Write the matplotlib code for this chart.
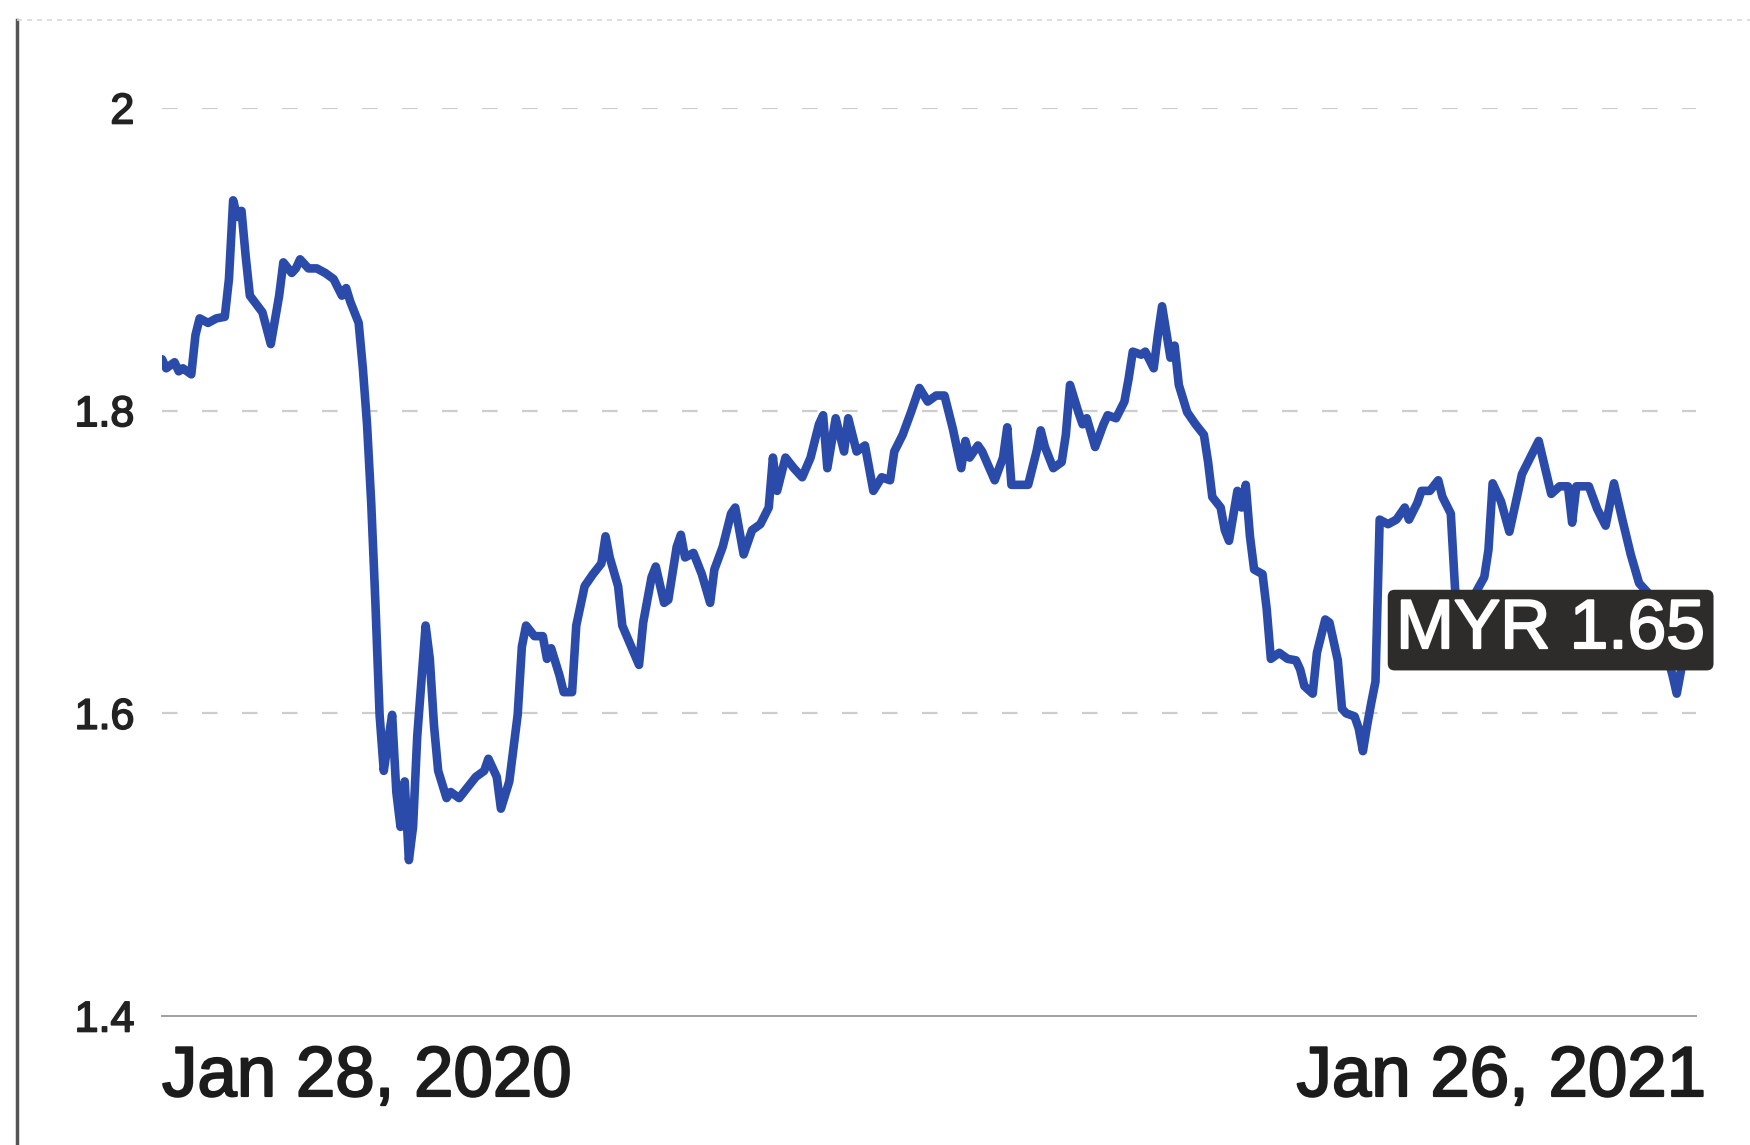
import matplotlib
matplotlib.use("Agg")
import matplotlib.pyplot as plt
import matplotlib.transforms as mtransforms
import matplotlib.patheffects as pe
from matplotlib.lines import Line2D
import pandas as pd

# MYR price series, Jan 28, 2020 -> Jan 26, 2021 (days since start, value)
start_date = "2020-01-28"
end_label = "Jan 26, 2021"
start_label = "Jan 28, 2020"
days = [
    0, 1, 3, 4, 5, 7, 8, 9, 11, 13,
    15, 16, 17, 18, 19, 20, 21, 24, 26, 28,
    29, 31, 32, 33, 35, 37, 39, 41, 43, 44,
    45, 47, 48, 49, 50, 51, 52, 53, 54, 55,
    56, 57, 58, 59, 60, 61, 63, 64, 65, 66,
    68, 69, 71, 73, 75, 77, 78, 80, 81, 83,
    85, 86, 87, 89, 91, 92, 93, 95, 96, 98,
    99, 101, 103, 105, 106, 107, 109, 110, 112, 114,
    115, 117, 118, 120, 121, 123, 124, 125, 127, 129,
    131, 132, 134, 136, 137, 139, 141, 143, 145, 146,
    147, 149, 151, 153, 155, 157, 158, 159, 161, 163,
    164, 166, 168, 170, 172, 174, 175, 177, 179, 181,
    183, 185, 187, 189, 191, 192, 193, 195, 196, 199,
    201, 202, 203, 205, 207, 209, 210, 211, 213, 215,
    216, 217, 219, 220, 221, 223, 225, 226, 228, 230,
    231, 232, 234, 235, 237, 238, 239, 241, 242, 243,
    245, 247, 249, 250, 251, 253, 254, 255, 257, 258,
    259, 260, 261, 263, 264, 265, 267, 269, 271, 272,
    273, 275, 276, 278, 279, 281, 282, 283, 285, 286,
    287, 288, 289, 290, 291, 293, 295, 297, 298, 300,
    301, 303, 305, 306, 308,
    309, 310, 312, 314, 316, 317, 318, 320, 322, 325,
    329, 332, 334, 336, 337, 338, 340, 341, 343, 345,
    347, 349, 351, 353, 355, 357, 360, 361, 362, 363, 364,
]
prices = [
    1.834, 1.828, 1.832, 1.826, 1.828, 1.824, 1.850, 1.861, 1.858, 1.861,
    1.862, 1.887, 1.939, 1.928, 1.932, 1.902, 1.876, 1.865, 1.844, 1.876,
    1.898, 1.891, 1.894, 1.900, 1.894, 1.894, 1.891, 1.887, 1.876, 1.881,
    1.872, 1.858, 1.828, 1.791, 1.739, 1.673, 1.599, 1.562, 1.581, 1.599,
    1.548, 1.525, 1.555, 1.503, 1.525, 1.585, 1.658, 1.636, 1.592, 1.562,
    1.544, 1.548, 1.544, 1.551, 1.558, 1.562, 1.570, 1.558, 1.537, 1.555,
    1.599, 1.644, 1.658, 1.651, 1.651, 1.636, 1.643, 1.625, 1.614, 1.614,
    1.658, 1.684, 1.692, 1.699, 1.717, 1.703, 1.684, 1.658, 1.645, 1.632,
    1.660, 1.690, 1.697, 1.673, 1.675, 1.710, 1.718, 1.703, 1.706, 1.692,
    1.673, 1.695, 1.710, 1.732, 1.736, 1.705, 1.721, 1.725, 1.736, 1.769,
    1.747, 1.769, 1.762, 1.756, 1.769, 1.791, 1.797, 1.762, 1.795, 1.773,
    1.795, 1.773, 1.777, 1.747, 1.756, 1.754, 1.773, 1.784, 1.799, 1.815,
    1.806, 1.810, 1.810, 1.788, 1.762, 1.780, 1.769, 1.777, 1.773, 1.754,
    1.769, 1.789, 1.751, 1.751, 1.751, 1.773, 1.787, 1.776, 1.762, 1.766,
    1.784, 1.817, 1.799, 1.791, 1.795, 1.776, 1.791, 1.797, 1.795, 1.806,
    1.821, 1.839, 1.837, 1.839, 1.828, 1.850, 1.869, 1.835, 1.843, 1.817,
    1.799, 1.791, 1.784, 1.766, 1.743, 1.736, 1.721, 1.714, 1.747, 1.736,
    1.751, 1.717, 1.695, 1.692, 1.669, 1.636, 1.640, 1.636, 1.635, 1.629,
    1.618, 1.613, 1.640, 1.662, 1.660, 1.635, 1.603, 1.600, 1.598, 1.590,
    1.575, 1.592, 1.607, 1.621, 1.728, 1.725, 1.728, 1.736, 1.728, 1.739,
    1.747, 1.747, 1.754, 1.743, 1.732,
    1.683, 1.660, 1.655, 1.680, 1.690, 1.708, 1.752, 1.740, 1.720, 1.758,
    1.780, 1.745, 1.750, 1.750, 1.726, 1.750, 1.750, 1.750, 1.735, 1.724,
    1.752, 1.728, 1.705, 1.686, 1.680, 1.655, 1.635, 1.625, 1.613, 1.628, 1.650,
]
y_ticks = [1.4, 1.6, 1.8, 2.0]
y_tick_labels = ["1.4", "1.6", "1.8", "2"]
current_label = "MYR 1.65"
current_value = 1.655

dates = pd.Timestamp(start_date) + pd.to_timedelta(days, unit="D")

plt.rcParams["font.family"] = ["Liberation Sans", "DejaVu Sans"]

fig = plt.figure(figsize=(17.5, 11.45), dpi=100)
fig.patch.set_facecolor("white")
ax = fig.add_axes([162 / 1750, 129 / 1145, 1534 / 1750, 908 / 1145])

ax.plot(dates, prices, color="#2b4bab", lw=6.2, solid_joinstyle="round",
        solid_capstyle="round", zorder=3)

ax.set_xlim(pd.Timestamp(start_date), pd.Timestamp(start_date) + pd.Timedelta(days=366.6))
ax.set_ylim(1.4, 2.0)
ax.set_yticks(y_ticks)
ax.set_yticklabels(y_tick_labels, fontsize=31, color="#222222")
for lab in ax.get_yticklabels():
    lab.set_path_effects([pe.withStroke(linewidth=1.2, foreground="#222222")])
ax.tick_params(axis="y", length=0, pad=20)
ax.set_xticks([])

for s in ["top", "right", "left"]:
    ax.spines[s].set_visible(False)
ax.spines["bottom"].set_color("#a0a0a0")
ax.spines["bottom"].set_linewidth(1.4)

for yv in y_ticks[1:]:
    ax.axhline(yv, color="#cdcdcd", lw=1.6, dashes=(7, 11), zorder=1)

thick = [pe.withStroke(linewidth=1.5, foreground="#1c1c1c")]

# date labels at the ends of the x range
tx = mtransforms.blended_transform_factory(ax.transData, ax.transAxes)
ax.text(dates[0], -0.032, start_label, transform=tx, ha="left", va="top",
        fontsize=51, color="#1c1c1c", path_effects=thick)
ax.text(1.007, -0.032, end_label, transform=ax.transAxes, ha="right", va="top",
        fontsize=51, color="#1c1c1c", path_effects=thick)

# current value badge
ty = mtransforms.blended_transform_factory(ax.transAxes, ax.transData)
ax.text(1.006, current_value, current_label, transform=ty, ha="right", va="center",
        fontsize=50, color="white", zorder=5,
        path_effects=[pe.withStroke(linewidth=1.5, foreground="white")],
        bbox=dict(boxstyle="round,pad=0.12,rounding_size=0.1", fc="#2e2c2a", ec="none"))

# frame of the clipped page
fig.add_artist(Line2D([17 / 1750, 17 / 1750], [0, 1 - 20 / 1145], transform=fig.transFigure,
                      color="#555555", lw=2.5))
fig.add_artist(Line2D([17 / 1750, 1], [1 - 20 / 1145, 1 - 20 / 1145], transform=fig.transFigure,
                      color="#d8d8d8", lw=1.2, dashes=(3, 3)))

fig.savefig("out.png", dpi=100)
print("Saved.")
